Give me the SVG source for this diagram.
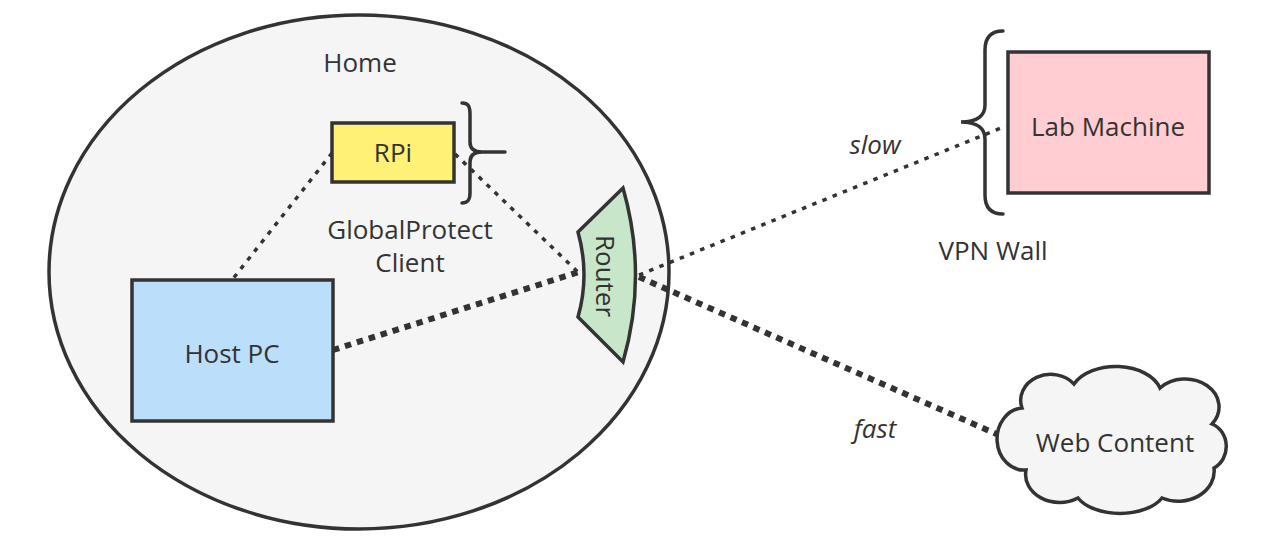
<svg xmlns="http://www.w3.org/2000/svg" width="1265" height="548" viewBox="0 0 1265 548">
<style>
text{font-family:"Open Sans","Noto Sans","Liberation Sans",sans-serif;font-size:26px;fill:#333;text-anchor:middle}
.it{font-style:italic}
.shape{stroke:#333;stroke-width:3.5}
.thin{fill:none;stroke:#333;stroke-width:3.5;stroke-dasharray:4.5 6.5}
.thick{fill:none;stroke:#333;stroke-width:6;stroke-dasharray:6.5 6}
.brace{fill:none;stroke:#333;stroke-width:3.5;stroke-linecap:round}
</style>
<rect width="1265" height="548" fill="#fff"/>
<g id="home">
<ellipse class="shape" cx="359" cy="272" rx="310" ry="257" fill="#f5f5f5"/>
<text x="360" y="72">Home</text>
</g>
<g id="connectors">
<line class="thin" x1="332" y1="153" x2="232" y2="280"/>
<line class="thin" x1="455" y1="154" x2="581" y2="275"/>
<line class="thick" x1="333" y1="350" x2="582" y2="271"/>
<line class="thin" x1="639" y1="275" x2="1006" y2="126"/>
<line class="thick" x1="639" y1="277" x2="1001" y2="436"/>
</g>
<g id="rpi">
<rect class="shape" x="332" y="123" width="122" height="59" fill="#fff176"/>
<text x="393" y="162">RPi</text>
</g>
<g id="globalprotect">
<path class="brace" d="M462,103 C468,103 470,106 470,114 L470,142 C470,149 474,152 482,152 L505,152 M482,152 C474,152 470,155 470,162 L470,193 C470,200 468,203 462,203"/>
<text x="410" y="239">GlobalProtect</text>
<text x="410" y="272">Client</text>
</g>
<g id="hostpc">
<rect class="shape" x="132" y="280" width="201" height="141" fill="#bbdefb"/>
<text x="232" y="363">Host PC</text>
</g>
<g id="router">
<path class="shape" d="M623,188 Q648,275 623,362 L578,317 Q590,275 578,232 Z" fill="#c8e6c9"/>
<text transform="translate(605,276) rotate(90)" x="0" y="9">Router</text>
</g>
<g id="vpnwall">
<path class="brace" d="M1003,31 C991,31 985,37 985,50 L985,105 C985,115 978,122 961,122 C978,122 985,129 985,139 L985,195 C985,208 991,214 1003,214"/>
<text x="993" y="260">VPN Wall</text>
</g>
<g id="lab">
<rect class="shape" x="1008" y="52" width="201" height="141" fill="#ffcdd2"/>
<text x="1108" y="136">Lab Machine</text>
</g>
<g id="web">
<path class="shape" fill="#f5f5f5" d="M1022,408 A30,26 0 0 1 1074,384 A46,30 0 0 1 1160,388 A34,28 0 0 1 1212,424 A22,24 0 0 1 1214,468 A36,30 0 0 1 1162,498 A46,26 0 0 1 1078,498 A34,28 0 0 1 1026,470 A26,30 0 0 1 1022,408 Z"/>
<text x="1115" y="452">Web Content</text>
</g>
<g id="labels">
<text class="it" x="875" y="154">slow</text>
<text class="it" x="875" y="438">fast</text>
</g>
</svg>
